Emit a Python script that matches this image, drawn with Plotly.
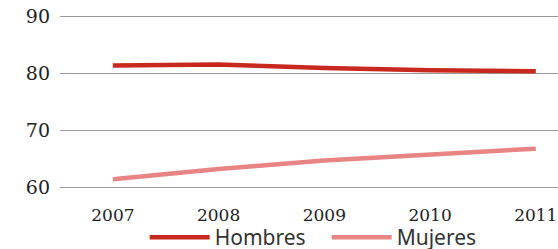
import plotly.graph_objects as go

years = ["2007", "2008", "2009", "2010", "2011"]
hombres = [81.4, 81.6, 81.0, 80.6, 80.4]
mujeres = [61.4, 63.2, 64.7, 65.8, 66.8]
y_ticks = [60, 70, 80, 90]

x_idx = list(range(len(years)))

fig = go.Figure()
fig.add_trace(go.Scatter(x=x_idx, y=hombres, mode="lines", name="Hombres",
                         line=dict(color="#C8281E", width=4.5)))
fig.add_trace(go.Scatter(x=x_idx, y=mujeres, mode="lines", name="Mujeres",
                         line=dict(color="#E98484", width=4.5)))

serif = "DejaVu Serif, Liberation Serif, serif"

fig.update_layout(
    width=558, height=249,
    margin=dict(l=60, r=0, t=11, b=56, autoexpand=False),
    paper_bgcolor="white", plot_bgcolor="white",
    showlegend=True,
    legend=dict(orientation="h",
                x=0.17, xanchor="left", y=-0.245, yanchor="middle",
                font=dict(family="Noto Sans", size=21, color="#333333"),
                bgcolor="rgba(0,0,0,0)", itemwidth=60,
                entrywidthmode="pixels", entrywidth=107),
    xaxis=dict(range=[-0.5, 4.21], tickvals=x_idx, ticktext=years,
               showgrid=False, zeroline=False, showline=False, ticks="",
               automargin=False, ticklabeloverflow="allow", ticklabelstandoff=10,
               tickfont=dict(family=serif, size=17, color="#222222")),
    yaxis=dict(range=[59, 91], tickvals=y_ticks, showgrid=True,
               gridcolor="#9a9a9a", gridwidth=1, zeroline=False, showline=False,
               ticks="", ticklabelstandoff=9, automargin=False,
               ticklabeloverflow="allow",
               tickfont=dict(family=serif, size=19, color="#222222")),
)

# remove the default 8px body margin so the figure fills the window exactly
fig.write_html("out.html",
               config={"displayModeBar": False},
               post_script="document.body.style.margin='0';document.body.style.overflow='hidden';")
